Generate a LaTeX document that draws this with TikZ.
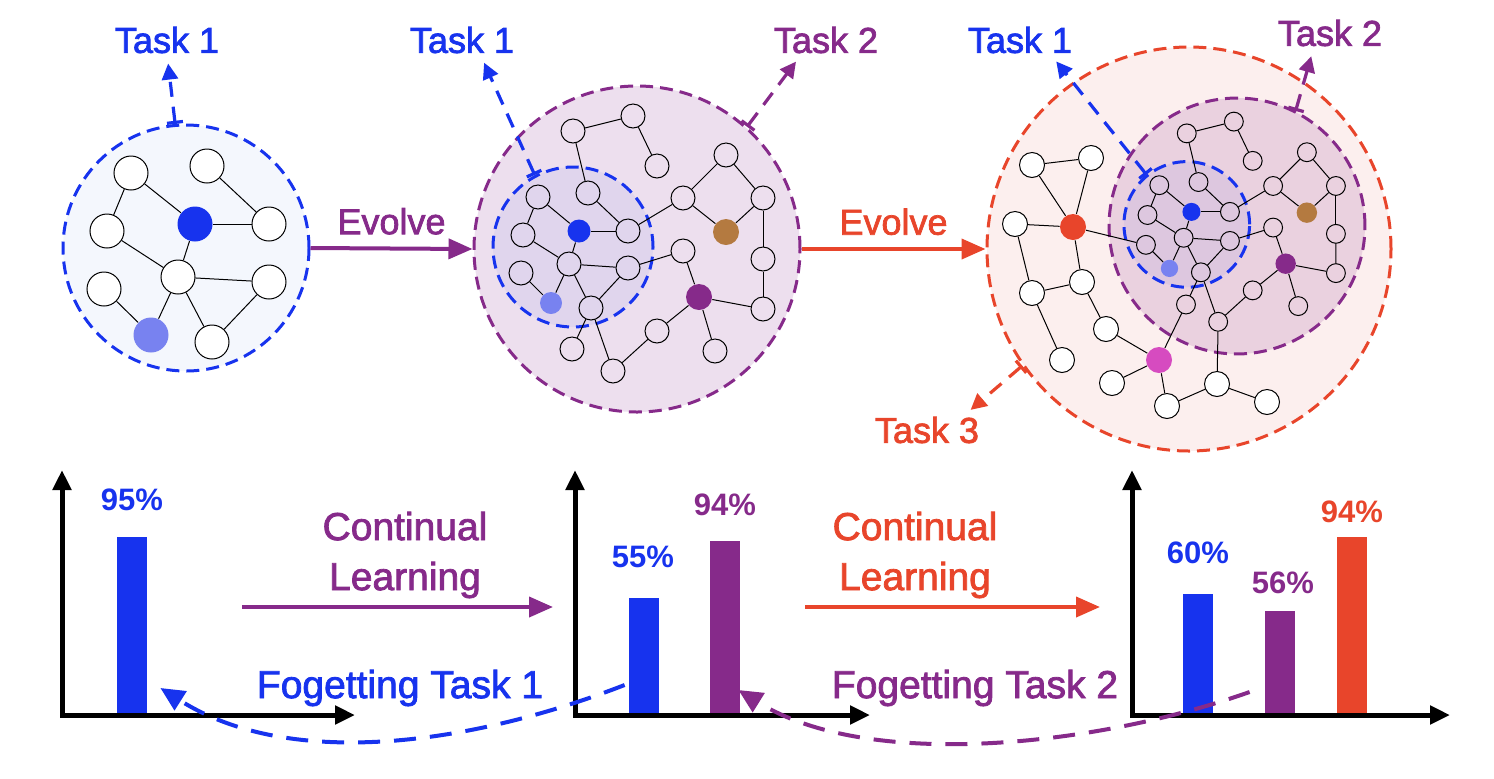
\documentclass[tikz,border=0pt]{standalone}
\usepackage{fontspec}
\setmainfont{Liberation Sans}
\newfontfamily\medfont[FakeBold=2]{Liberation Sans}
\usetikzlibrary{arrows.meta}

\definecolor{taskblue}{HTML}{1733EE}
\definecolor{taskpurple}{HTML}{862A8A}
\definecolor{taskred}{HTML}{E8452B}
\definecolor{softblue}{HTML}{7882F0}
\definecolor{nodebrown}{HTML}{B47A40}
\definecolor{nodepink}{HTML}{D64BC0}
\definecolor{bgblue}{HTML}{F4F7FD}
\definecolor{bgred}{HTML}{FCEFEE}

\tikzset{
  gnode/.style={circle, draw=black, line width=0.5pt, inner sep=0pt, minimum size=12pt},
  wnode/.style={gnode, fill=white},
  link/.style={line width=0.5pt},
  zone/.style={circle, inner sep=0pt, line width=1.5pt, dash pattern=on 6.5pt off 3.5pt},
  tasklink/.style={line width=1.6pt, dash pattern=on 7.5pt off 5pt,
    {Bar[width=8pt]}-{Triangle[length=8pt,width=8pt]}, shorten >=5pt},
  flow/.style={line width=2pt, -{Triangle[length=12pt,width=10pt]}},
  forget/.style={line width=2pt, dash pattern=on 11pt off 7pt, -{Triangle[length=12pt,width=11pt]}},
  axis/.style={line width=2.5pt, {Triangle[length=10pt,width=9pt]}-{Triangle[length=10pt,width=9pt]}},
  bar/.style={minimum width=15pt, inner sep=0pt, anchor=south},
  tasklabel/.style={font=\medfont\fontsize{18}{20}\selectfont, inner sep=0pt},
  pct/.style={font=\bfseries\fontsize{15.5}{18}\selectfont, inner sep=0pt},
  bigtext/.style={font=\medfont\fontsize{19.5}{25}\selectfont, align=center, inner sep=0pt},
}

% graph of task 1 + task 2, drawn around (0,0)
\newcommand{\evolvegraph}[1]{%
  \node[zone, draw=taskpurple, fill=taskpurple, fill opacity=0.15, minimum size=163pt] (#1out) at (0,0) {};
  \node[zone, draw=taskblue, fill=taskblue, fill opacity=0.06, minimum size=80pt] (#1in) at (-64,-2) {};
  \node[gnode] (#1n1) at (-64,-118) {};
  \node[gnode] (#1n2) at (-4,-133) {};
  \node[gnode] (#1n3) at (20,-83) {};
  \node[gnode] (#1n4) at (-49,-56) {};
  \node[gnode] (#1n5) at (-99,-52) {};
  \node[gnode, draw=none, fill=taskblue, minimum size=11.5pt] (#1n6) at (-58,-18) {};
  \node[gnode] (#1n7) at (-9,-18) {};
  \node[gnode] (#1n8) at (-114,-14) {};
  \node[gnode] (#1n9) at (-68,15) {};
  \node[gnode] (#1n10) at (-9,19) {};
  \node[gnode] (#1n11) at (-116,24) {};
  \node[gnode, draw=none, fill=softblue, minimum size=11pt] (#1n12) at (-86,54) {};
  \node[gnode] (#1n13) at (-46,59) {};
  \node[gnode] (#1n14) at (-65,100) {};
  \node[gnode] (#1n15) at (-24,122) {};
  \node[gnode] (#1n16) at (20,82) {};
  \node[gnode, draw=none, fill=taskpurple, minimum size=13pt] (#1n17) at (62,48) {};
  \node[gnode] (#1n18) at (78,102) {};
  \node[gnode] (#1n19) at (126,60) {};
  \node[gnode] (#1n20) at (126,10) {};
  \node[gnode] (#1n21) at (126,-51) {};
  \node[gnode, draw=none, fill=nodebrown, minimum size=13pt] (#1n22) at (89,-17) {};
  \node[gnode] (#1n23) at (89,-94) {};
  \node[gnode] (#1n24) at (46,-51) {};
  \node[gnode] (#1n25) at (46,2) {};
  \foreach \a/\b in {n1/n2, n2/n3, n1/n4, n4/n7, n5/n6, n5/n8, n6/n7, n6/n9, n8/n9,
      n9/n10, n9/n12, n9/n13, n11/n12, n10/n13, n13/n14, n13/n15, n7/n24, n24/n23,
      n23/n21, n21/n22, n24/n22, n21/n20, n20/n19, n19/n17, n10/n25, n25/n17,
      n17/n16, n16/n15, n17/n18}
    \draw[link] (#1\a) -- (#1\b);
}

\begin{document}
\begin{tikzpicture}[x=0.5pt, y=-0.5pt]
\useasboundingbox (0,0) rectangle (1494,778);

% first graph
\node[zone, draw=taskblue, fill=bgblue, minimum size=123pt] (c1) at (186,248) {};
\node[wnode, minimum size=17pt] (u1) at (131,173) {};
\node[wnode, minimum size=17pt] (u2) at (207,166) {};
\node[wnode, minimum size=17pt] (u3) at (107,231) {};
\node[gnode, draw=none, fill=taskblue, minimum size=17.5pt] (u4) at (195,224) {};
\node[wnode, minimum size=17pt] (u5) at (269,224) {};
\node[wnode, minimum size=17pt] (u6) at (178,277) {};
\node[wnode, minimum size=17pt] (u7) at (104,289) {};
\node[wnode, minimum size=17pt] (u8) at (269,282) {};
\node[gnode, draw=none, fill=softblue, minimum size=17.5pt] (u9) at (151,335) {};
\node[wnode, minimum size=17pt] (u10) at (212,342) {};
\foreach \a/\b in {u1/u3, u1/u4, u2/u5, u4/u5, u4/u6, u3/u6, u6/u8, u6/u9, u6/u10, u7/u9, u8/u10}
  \draw[link] (\a) -- (\b);

% second graph
\begin{scope}[shift={(637,249)}]
  \evolvegraph{g}
\end{scope}

% third graph
\node[zone, draw=taskred, fill=bgred, minimum size=202pt] (c3) at (1189,249) {};
\begin{scope}[shift={(1237,226)}, scale=0.785, transform shape]
  \evolvegraph{h}
\end{scope}
\node[wnode, minimum size=12.5pt] (w1) at (1032,165) {};
\node[wnode, minimum size=12.5pt] (w2) at (1091,158) {};
\node[wnode, minimum size=12.5pt] (w3) at (1015,224) {};
\node[gnode, draw=none, fill=taskred, minimum size=13pt] (w4) at (1073,227) {};
\node[wnode, minimum size=12.5pt] (w5) at (1032,293) {};
\node[wnode, minimum size=12.5pt] (w6) at (1082,282) {};
\node[wnode, minimum size=12.5pt] (w7) at (1062,360) {};
\node[wnode, minimum size=12.5pt] (w8) at (1106,329) {};
\node[gnode, draw=none, fill=nodepink, minimum size=13pt] (w9) at (1159,360) {};
\node[wnode, minimum size=12.5pt] (w10) at (1112,383) {};
\node[wnode, minimum size=12.5pt] (w11) at (1167,406) {};
\node[wnode, minimum size=12.5pt] (w12) at (1217,384) {};
\node[wnode, minimum size=12.5pt] (w13) at (1267,402) {};
\foreach \a/\b in {w1/w2, w1/w4, w2/w4, w3/w4, w3/w5, w4/w6, w5/w6, w5/w7, w6/w8,
    w8/w9, w9/w10, w9/w11, w11/w12, w12/w13, w4/hn11, w9/hn14, w12/hn15}
  \draw[link] (\a) -- (\b);

% task labels
\node[tasklabel, text=taskblue] (t11) at (167,40) {Task 1};
\node[tasklabel, text=taskblue] (t21) at (462,40) {Task 1};
\node[tasklabel, text=taskpurple] (t22) at (826,40) {Task 2};
\node[tasklabel, text=taskblue] (t31) at (1020,40) {Task 1};
\node[tasklabel, text=taskpurple] (t32) at (1330,33) {Task 2};
\node[tasklabel, text=taskred] (t33) at (927,430) {Task 3};
\draw[tasklink, taskblue] (c1.95) -- (t11.south);
\draw[tasklink, taskblue] (gin.118) -- ([xshift=9pt]t21.south);
\draw[tasklink, taskpurple] (gout.48) -- ([xshift=-12pt]t22.south);
\draw[tasklink, taskblue] (hin.129) -- ([xshift=15pt]t31.south);
\draw[tasklink, taskpurple] (hout.63) -- ([xshift=-8pt]t32.south);
\draw[tasklink, taskred] (c3.215) -- ([xshift=18pt]t33.north);

% evolve arrows
\draw[flow, taskpurple] (c1.east) -- (gout.west)
  node[midway, above=6pt, tasklabel, text=taskpurple] (ev1) {Evolve};
\draw[flow, taskred] (gout.east) -- (c3.west)
  node[midway, above=6pt, tasklabel, text=taskred] (ev2) {Evolve};

% bar charts
\node[bar, fill=taskblue, minimum height=89pt] (b11) at (132,715) {};
\node[bar, fill=taskblue, minimum height=58.5pt] (b21) at (644,715) {};
\node[bar, fill=taskpurple, minimum height=87pt] (b22) at (725,715) {};
\node[bar, fill=taskblue, minimum height=60.5pt] (b31) at (1198,715) {};
\node[bar, fill=taskpurple, minimum height=52pt] (b32) at (1280,715) {};
\node[bar, fill=taskred, minimum height=89pt] (b33) at (1352,715) {};
\coordinate (ax1) at (62,715);
\coordinate (ax2) at (575,715);
\coordinate (ax3) at (1132,715);
\draw[axis] (62,470) -- (ax1) -- (355,715);
\draw[axis] (575,470) -- (ax2) -- (870,715);
\draw[axis] (1132,470) -- (ax3) -- (1450,715);
\node[pct, text=taskblue] (p11) at (132,500) {95\%};
\node[pct, text=taskblue] (p21) at (643,557) {55\%};
\node[pct, text=taskpurple] (p22) at (725,505) {94\%};
\node[pct, text=taskblue] (p31) at (1198,553) {60\%};
\node[pct, text=taskpurple] (p32) at (1283,583) {56\%};
\node[pct, text=taskred] (p33) at (1352,512) {94\%};

% continual learning
\node[bigtext, text=taskpurple] (cl1) at (405,555) {Continual\\Learning};
\node[bigtext, text=taskred] (cl2) at (915,555) {Continual\\Learning};
\coordinate (cl1a) at (242,607);
\coordinate (cl1b) at (553,607);
\coordinate (cl2a) at (805,607);
\coordinate (cl2b) at (1100,607);
\draw[flow, taskpurple] (cl1a) -- (cl1b);
\draw[flow, taskred] (cl2a) -- (cl2b);

% forgetting
\node[bigtext, text=taskblue] (fg1) at (400,688) {Fogetting Task 1};
\node[bigtext, text=taskpurple] (fg2) at (975,688) {Fogetting Task 2};
\draw[forget, taskblue] ([xshift=-2pt,yshift=15pt]b21.south west)
  .. controls (470,745) and (290,770) .. ([xshift=6.5pt,yshift=13.5pt]b11.south east);
\draw[forget, taskpurple] ([xshift=-7.5pt,yshift=11.5pt]b32.south west)
  .. controls (1100,745) and (870,772) .. ([xshift=-1pt,yshift=12.5pt]b22.south east);
\end{tikzpicture}
\end{document}
